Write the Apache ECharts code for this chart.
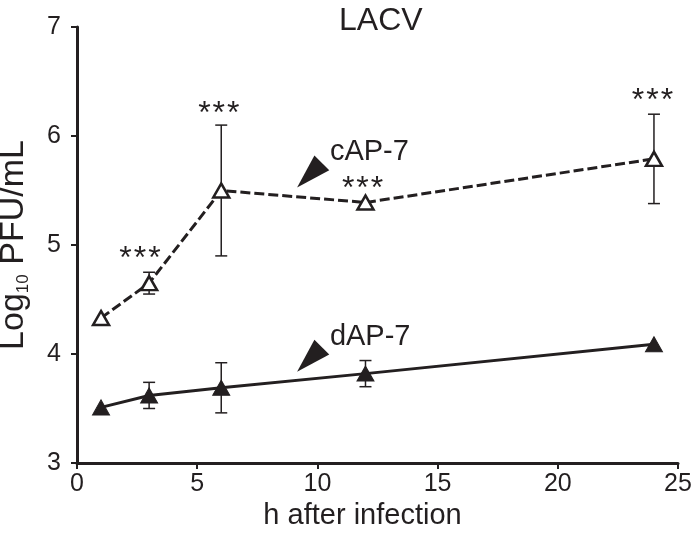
<!DOCTYPE html>
<html>
<head>
<meta charset="utf-8">
<script src="https://cdn.jsdelivr.net/npm/echarts@6/dist/echarts.min.js"></script>
<style>html,body{margin:0;padding:0;background:#fff;}#chart{width:700px;height:539px;}</style>
</head>
<body>
<div id="chart"></div>
<script>
// ---- data ----
const hours = [1, 3, 6, 12, 24];
const cAP7 = [4.33, 4.65, 5.50, 5.39, 5.79];
const cAP7Err = [0, 0.10, 0.60, 0.02, 0.41];
const dAP7 = [3.51, 3.62, 3.69, 3.82, 4.09];
const dAP7Err = [0, 0.12, 0.23, 0.12, 0.02];
const xTicks = [0, 5, 10, 15, 20, 25];
const yTicks = [3, 4, 5, 6, 7];
// significance marks (data coordinates)
const starX = [2.62, 5.9, 11.88, 23.94];
const starY = [4.87, 6.20, 5.51, 6.32];
// series labels with arrowheads (data coordinates)
const seriesLabels = ['cAP-7', 'dAP-7'];
const labelX = [10.52, 10.52];
const labelY = [5.85, 4.16];
const arrowX = [9.67, 9.67];
const arrowY = [5.64, 3.95];

const INK = '#231f20';
const FONT = '"Liberation Sans", Arial, sans-serif';

function errData(xs, ys, es) { return xs.map((x, i) => [x, ys[i], es[i]]); }

function renderErr(params, api) {
  const x = api.value(0), y = api.value(1), e = api.value(2);
  if (!e || e < 0.05) return null;
  const t = api.coord([x, y + e]), b = api.coord([x, y - e]);
  const w = 6;
  const st = { stroke: INK, lineWidth: 1.5 };
  return { type: 'group', children: [
    { type: 'line', shape: { x1: t[0], y1: t[1], x2: b[0], y2: b[1] }, style: st },
    { type: 'line', shape: { x1: t[0] - w, y1: t[1], x2: t[0] + w, y2: t[1] }, style: st },
    { type: 'line', shape: { x1: b[0] - w, y1: b[1], x2: b[0] + w, y2: b[1] }, style: st }
  ]};
}

const chart = echarts.init(document.getElementById('chart'), null, { renderer: 'canvas' });
chart.setOption({
  backgroundColor: '#fff',
  animation: false,
  textStyle: { fontFamily: FONT, color: INK },
  title: {
    text: 'LACV', left: 334, top: 0,
    textStyle: { fontFamily: FONT, fontSize: 32, fontWeight: 'normal', color: INK }
  },
  grid: { left: 77, right: 22, top: 27, bottom: 76, outerBoundsMode: 'none', containLabel: false },
  xAxis: {
    type: 'value', min: xTicks[0], max: xTicks[xTicks.length - 1], interval: 5,
    name: 'h after infection', nameLocation: 'middle', nameGap: 38,
    nameTextStyle: { fontFamily: FONT, fontSize: 29, color: INK, padding: [0, 30, 0, 0] },
    axisLine: { show: true, lineStyle: { color: INK, width: 3 } },
    axisTick: { show: true, length: 6, lineStyle: { color: INK, width: 2 } },
    axisLabel: { fontFamily: FONT, fontSize: 25, color: INK, margin: 9 },
    splitLine: { show: false }
  },
  yAxis: {
    type: 'value', min: yTicks[0], max: yTicks[yTicks.length - 1], interval: 1,
    name: '{a|Log}{s|10}{a| PFU/mL}', nameLocation: 'middle', nameGap: 45, nameRotate: 90,
    nameTextStyle: {
      fontFamily: FONT, fontSize: 34, color: INK,
      rich: {
        a: { fontFamily: FONT, fontSize: 34, color: INK },
        s: { fontFamily: FONT, fontSize: 17, color: INK, padding: [20, 0, 0, 0] }
      }
    },
    axisLine: { show: true, lineStyle: { color: INK, width: 3 } },
    axisTick: { show: true, length: 6, lineStyle: { color: INK, width: 2 } },
    axisLabel: { fontFamily: FONT, fontSize: 25, color: INK, margin: 16 },
    splitLine: { show: false }
  },
  series: [
    { type: 'custom', name: 'cErr', renderItem: renderErr, data: errData(hours, cAP7, cAP7Err), z: 1, silent: true },
    { type: 'custom', name: 'dErr', renderItem: renderErr, data: errData(hours, dAP7, dAP7Err), z: 1, silent: true },
    {
      type: 'line', name: 'cAP-7', data: hours.map((h, i) => [h, cAP7[i]]), z: 3,
      symbol: 'triangle', symbolSize: [16, 14], showAllSymbol: true,
      lineStyle: { color: INK, width: 3, type: [10, 4] },
      itemStyle: { color: '#fff', borderColor: INK, borderWidth: 2.5 }
    },
    {
      type: 'line', name: 'dAP-7', data: hours.map((h, i) => [h, dAP7[i]]), z: 3,
      symbol: 'triangle', symbolSize: [17, 15], showAllSymbol: true,
      lineStyle: { color: INK, width: 3 },
      itemStyle: { color: INK, borderColor: INK, borderWidth: 1 }
    },
    {
      type: 'scatter', name: 'stars', data: starX.map((x, i) => [x, starY[i]]), z: 4,
      symbolSize: 0, silent: true, itemStyle: { opacity: 1 },
      label: {
        show: true, position: 'inside', formatter: '{s|*}{s|*}{s|*}', opacity: 1,
        rich: { s: { fontFamily: FONT, fontSize: 32, color: INK, padding: [0, 1, 0, 1] } }
      }
    },
    {
      type: 'scatter', name: 'arrows', data: arrowX.map((x, i) => [x, arrowY[i]]), z: 4,
      symbol: 'triangle', symbolSize: [21, 35], symbolRotate: 135, silent: true,
      itemStyle: { color: INK, opacity: 1 }
    },
    {
      type: 'scatter', name: 'labels', data: labelX.map((x, i) => ({ value: [x, labelY[i]], name: seriesLabels[i] })), z: 4,
      symbolSize: 0, silent: true, itemStyle: { opacity: 1 },
      label: {
        show: true, position: 'right', distance: 0, formatter: '{b}', opacity: 1,
        fontFamily: FONT, fontSize: 29, color: INK
      }
    }
  ]
});
</script>
</body>
</html>
